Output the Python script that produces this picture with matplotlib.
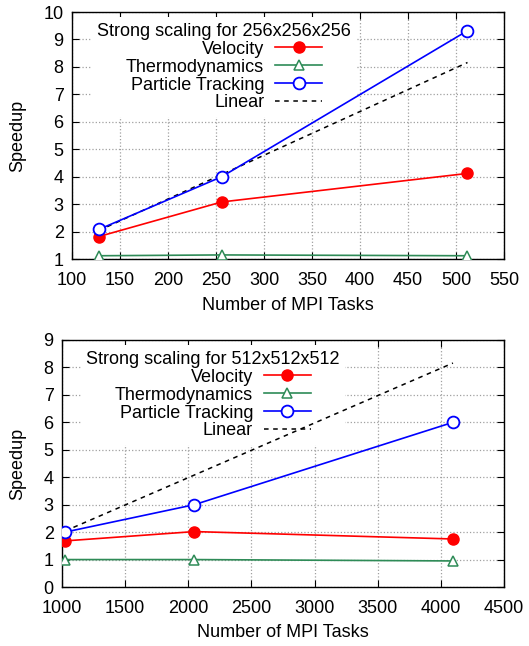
import numpy as np
from matplotlib import pyplot as plt

plt.rcParams['font.family'] = ['Liberation Sans', 'DejaVu Sans']
plt.rcParams['font.size'] = 13

# 256^3 case
tasks_a = [128, 256, 512]
vel_a = [1.82, 3.08, 4.12]
thermo_a = [1.12, 1.15, 1.12]
part_a = [2.08, 4.0, 9.32]
lin_a = [2.04, 4.08, 8.16]

# 512^3 case
tasks_b = [1024, 2048, 4096]
vel_b = [1.68, 2.02, 1.75]
thermo_b = [1.0, 1.0, 0.95]
part_b = [2.0, 3.0, 6.0]
lin_b = [2.04, 4.08, 8.16]

red = '#ff0000'
green = '#2e8b57'
blue = '#0000ff'

fig = plt.figure(figsize=(5.29, 6.46), dpi=100)
ax1 = fig.add_axes([0.1361, 0.599, 0.8166, 0.3824])
ax2 = fig.add_axes([0.1172, 0.0913, 0.8355, 0.3824])

def panel(ax, x, vel, thermo, part, lin, title, legx):
	ax.plot(x, vel, color=red, lw=1.2, marker='o', ms=8, mfc=red, mec=red, label='Velocity', zorder=4)
	ax.plot(x, thermo, color=green, lw=1.2, marker='^', ms=7, mfc='white', mec=green, mew=1.1, label='Thermodynamics', zorder=4)
	ax.plot(x, part, color=blue, lw=1.2, marker='o', ms=8.5, mfc='white', mec=blue, mew=1.3, label='Particle Tracking', zorder=5)
	ax.plot(x, lin, color='black', lw=1.1, ls=(0, (3, 3)), label='Linear', zorder=3)
	ax.grid(True, ls=':', color='#a0a0a0', lw=0.9)
	ax.set_axisbelow(True)
	ax.tick_params(direction='in', top=True, right=True, length=5, labelsize=13)
	ax.tick_params(axis='x', pad=9)
	ax.tick_params(axis='y', pad=6)
	ax.set_ylabel('Speedup')
	ax.set_xlabel('Number of MPI Tasks')
	for s in ax.spines.values():
		s.set_linewidth(1.0)
	leg = ax.legend(loc='upper left', bbox_to_anchor=(legx, 1.0), markerfirst=False, frameon=True,
		framealpha=1, facecolor='white', edgecolor='none', fancybox=False, title=title,
		title_fontsize=13, handlelength=2.6, labelspacing=0.05, borderpad=0.3,
		handletextpad=0.6, borderaxespad=0.3)
	leg.set_zorder(2)

panel(ax1, tasks_a, vel_a, thermo_a, part_a, lin_a, 'Strong scaling for 256x256x256', 0.033)
ax1.set_xlim(100, 550)
ax1.set_ylim(1, 10)
ax1.set_xticks(np.arange(100, 551, 50))
ax1.set_yticks(np.arange(1, 11, 1))
ax1.xaxis.set_label_coords(0.5, -0.155)
ax1.yaxis.set_label_coords(-0.105, 0.5)

panel(ax2, tasks_b, vel_b, thermo_b, part_b, lin_b, 'Strong scaling for 512x512x512', 0.03)
ax2.set_xlim(1000, 4500)
ax2.set_ylim(0, 9)
ax2.set_xticks(np.arange(1000, 4501, 500))
ax2.set_yticks(np.arange(0, 10, 1))
ax2.xaxis.set_label_coords(0.5, -0.15)
ax2.yaxis.set_label_coords(-0.08, 0.5)

fig.savefig('out.png', dpi=100)
